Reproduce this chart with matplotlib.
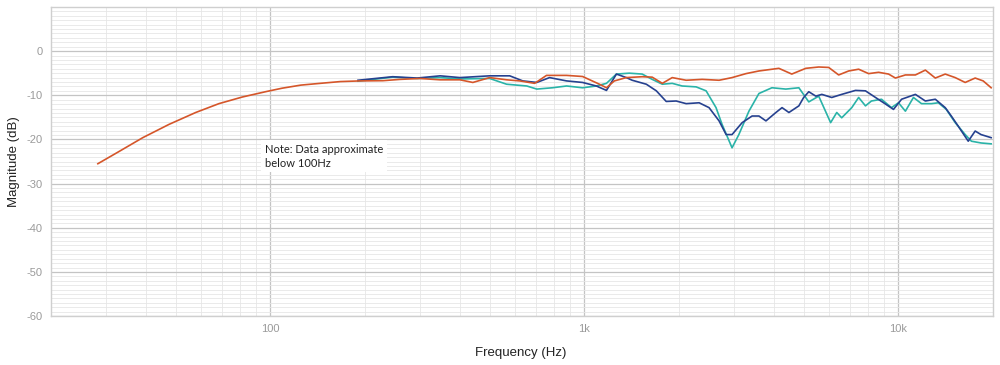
import numpy as np
import matplotlib
matplotlib.use("Agg")
import matplotlib.pyplot as plt
from matplotlib.ticker import FixedLocator, NullFormatter

# ---- data ----
orange_freq = [28.2, 33.0, 39.2, 47.5, 57.8, 68.5, 81.3, 96.4, 108.9, 125, 144, 167, 193, 228,
               259, 299, 347, 401, 441, 499, 565, 622, 694, 757, 877, 986, 1116, 1175, 1245,
               1359, 1527, 1643, 1770, 1903, 2108, 2370, 2683, 2951, 3268, 3594, 4159, 4573,
               5068, 5572, 5995, 6450, 6940, 7467, 8034, 8644, 9300, 9778, 10520, 11320, 12180,
               13100, 14090, 15160, 16310, 17550, 18610, 19730]
orange_db = [-25.5, -22.7, -19.6, -16.6, -13.9, -11.9, -10.4, -9.2, -8.4, -7.7, -7.3, -6.9,
             -6.75, -6.7, -6.4, -6.2, -6.5, -6.5, -7.1, -6.0, -6.5, -6.75, -7.3, -5.5, -5.5,
             -5.75, -7.5, -8.3, -6.75, -6.0, -5.8, -5.9, -7.3, -6.0, -6.6, -6.4, -6.6, -6.0,
             -5.1, -4.5, -3.9, -5.2, -3.9, -3.6, -3.7, -5.4, -4.5, -4.1, -5.1, -4.8, -5.2,
             -6.1, -5.4, -5.4, -4.3, -6.1, -5.2, -6.0, -7.1, -6.1, -6.75, -8.3]

navy_freq = [190, 245, 293, 347, 401, 499, 578, 636, 705, 774, 877, 986, 1091, 1175, 1264, 1359,
             1419, 1574, 1694, 1821, 1959, 2108, 2318, 2493, 2683, 2826, 2951, 3178, 3418, 3594,
             3784, 4071, 4258, 4478, 4817, 4990, 5180, 5456, 5700, 6130, 6594, 7296, 7850, 8450,
             9100, 9640, 10230, 11320, 12180, 13100, 14090, 14730, 15500, 16680, 17550, 18320,
             19730]
navy_db = [-6.6, -5.8, -6.1, -5.6, -6.0, -5.6, -5.6, -6.75, -7.1, -6.0, -6.75, -7.1, -7.9, -8.9,
           -5.2, -6.0, -6.6, -7.5, -9.0, -11.4, -11.3, -11.9, -11.7, -12.8, -15.8, -18.9, -18.9,
           -16.2, -14.7, -14.7, -15.8, -13.9, -12.8, -13.9, -12.4, -10.5, -9.2, -10.2, -9.8,
           -10.5, -9.8, -8.9, -9.0, -10.5, -12.0, -13.2, -10.9, -9.8, -11.3, -10.9, -12.8,
           -14.7, -17.0, -20.4, -18.1, -18.9, -19.6]

teal_freq = [190, 245, 293, 347, 401, 499, 565, 655, 705, 791, 877, 986, 1091, 1175, 1264, 1389,
             1527, 1643, 1770, 1903, 2046, 2268, 2440, 2624, 2743, 2951, 3102, 3340, 3594, 3953,
             4377, 4817, 5180, 5572, 6080, 6360, 6594, 7100, 7467, 7850, 8200, 8830, 9500, 10000,
             10520, 11160, 11840, 12740, 13400, 14200, 15160, 16310, 17070, 18320, 19730]
teal_db = [-6.8, -5.9, -6.2, -6.0, -6.3, -6.2, -7.5, -7.9, -8.6, -8.3, -7.9, -8.3, -7.9, -7.3,
           -5.2, -5.0, -5.2, -6.4, -7.5, -7.3, -7.9, -8.1, -9.0, -12.8, -16.6, -21.9, -18.9,
           -13.6, -9.6, -8.3, -8.6, -8.3, -11.5, -10.2, -16.2, -13.9, -15.1, -12.8, -10.5, -12.4,
           -11.3, -10.9, -12.8, -11.7, -13.6, -10.5, -11.9, -11.9, -11.7, -13.2, -16.2, -18.9,
           -20.4, -20.8, -21.0]

x_major = [100, 1000, 10000]
x_major_labels = ["100", "1k", "10k"]
y_major = [-60, -50, -40, -30, -20, -10, 0]
y_major_labels = ["-60", "-50", "-40", "-30", "-20", "-10", "0"]

# ---- figure ----
fig = plt.figure(figsize=(10, 3.65), dpi=100)
ax = fig.add_axes([0.051, 0.134, 0.942, 0.847])

ax.set_xscale("log")
ax.set_xlim(20, 20000)
ax.set_ylim(-60, 10)

minor_x = [m * d for d in (10, 100, 1000, 10000) for m in range(2, 10) if 20 <= m * d <= 20000]
ax.xaxis.set_major_locator(FixedLocator(x_major))
ax.xaxis.set_minor_locator(FixedLocator(minor_x))
ax.xaxis.set_minor_formatter(NullFormatter())
ax.set_xticklabels(x_major_labels)
ax.set_yticks(y_major)
ax.set_yticklabels(y_major_labels)
ax.yaxis.set_minor_locator(FixedLocator([v for v in range(-60, 11) if v % 10 != 0]))

ax.grid(which="major", color="#c4c4c4", linewidth=0.9)
ax.grid(which="minor", color="#e6e6e6", linewidth=0.6)
ax.set_axisbelow(True)
ax.tick_params(which="both", length=0, colors="#9a9a9a", labelsize=8, pad=6)
for s in ax.spines.values():
    s.set_color("#cfcfcf")
    s.set_linewidth(1.0)

ax.plot(teal_freq, teal_db, color="#2ab3a8", linewidth=1.2)
ax.plot(navy_freq, navy_db, color="#26418f", linewidth=1.2)
ax.plot(orange_freq, orange_db, color="#d5562a", linewidth=1.2)

ax.set_xlabel("Frequency (Hz)", fontsize=9.5, color="#222222", family="Liberation Sans")
ax.set_ylabel("Magnitude (dB)", fontsize=9.5, color="#222222", family="Liberation Sans")
ax.xaxis.set_label_coords(0.4985, -0.10)
ax.yaxis.set_label_coords(-0.033, 0.5)
for lab in ax.get_xticklabels() + ax.get_yticklabels():
    lab.set_family("Liberation Sans")

ax.text(96, -21.0, "Note: Data approximate\nbelow 100Hz", fontsize=8, family="Lato",
        color="#222222", va="top", ha="left", linespacing=1.3,
        bbox=dict(boxstyle="square,pad=0.35", facecolor="white", edgecolor="none"))

fig.savefig("out.png", dpi=100, facecolor="white")
